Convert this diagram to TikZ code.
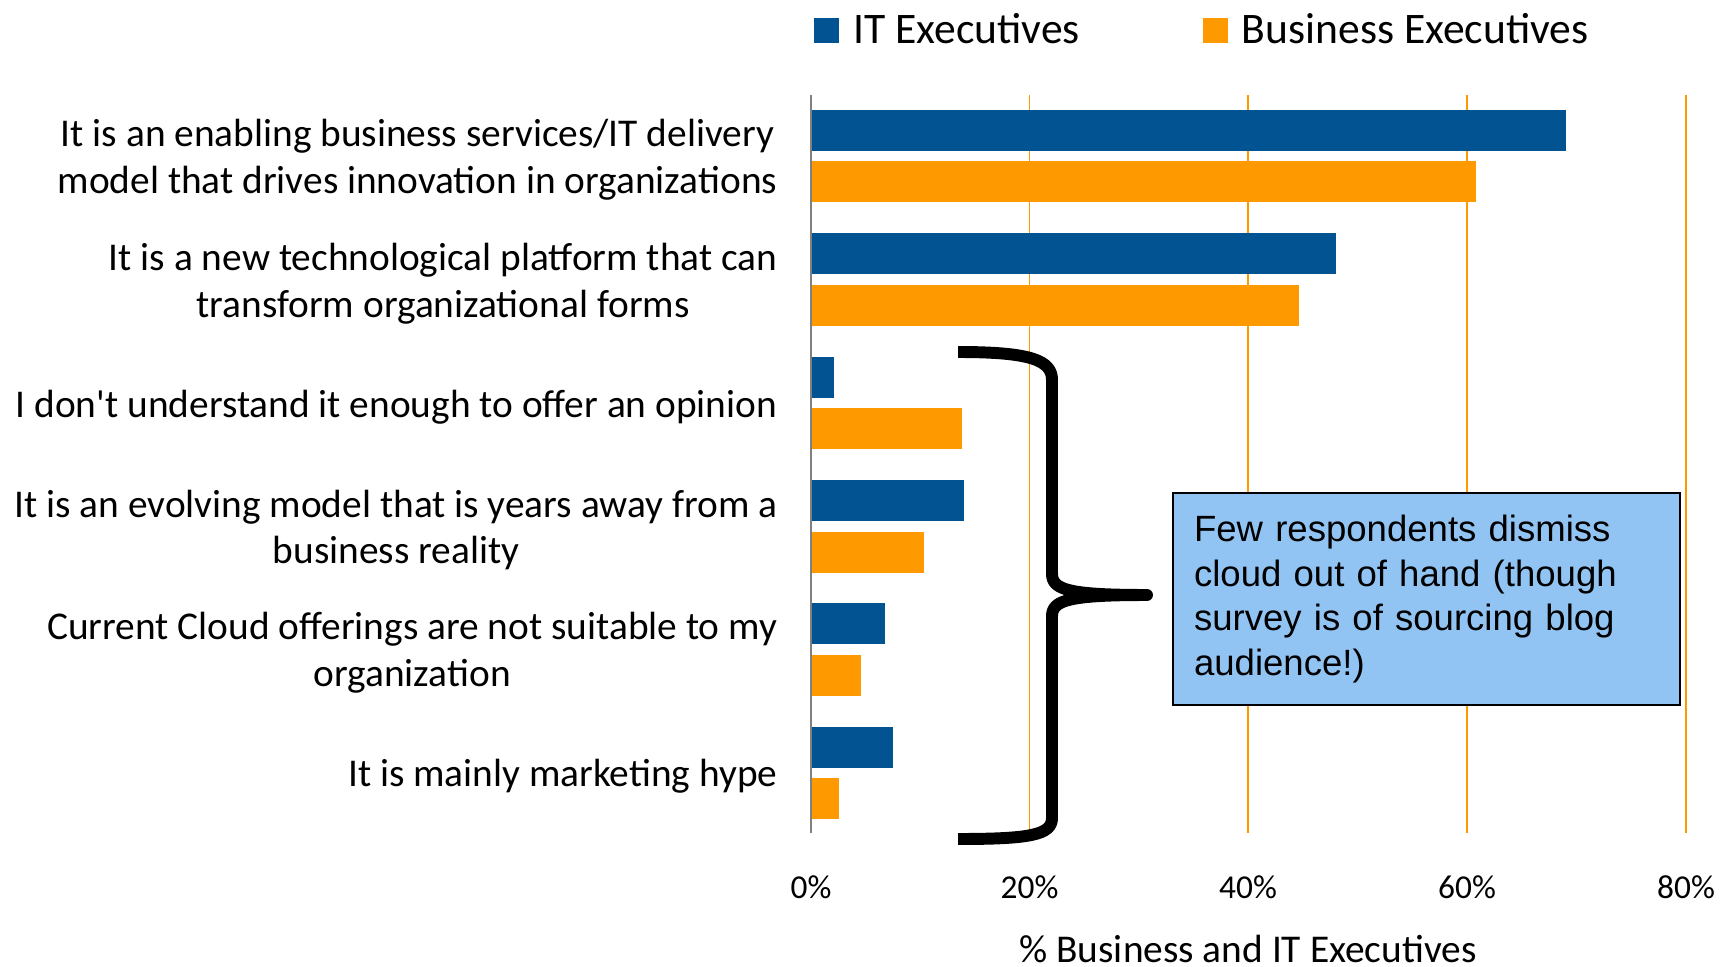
\documentclass[tikz,border=0pt]{standalone}
\usepackage{fontspec}
\usepackage{tikz}
\usetikzlibrary{positioning}
\newfontfamily\calfont{Carlito}
\newfontfamily\notefont{Liberation Sans}
\definecolor{itblue}{RGB}{2,83,145}
\definecolor{busorange}{RGB}{255,153,0}
\definecolor{noteblue}{RGB}{146,196,243}
\definecolor{axisgray}{RGB}{128,128,128}

\begin{document}
\begin{tikzpicture}[x=0.1mm,y=-0.1mm,
    itbar/.style={fill=itblue},
    busbar/.style={fill=busorange},
    gridline/.style={draw=busorange,line width=0.45pt},
    catlab/.style={anchor=east,align=center,inner sep=0pt,font=\calfont\fontsize{11.2}{13.3}\selectfont},
    ticklab/.style={anchor=base,inner sep=0pt,font=\calfont\fontsize{9.5}{11}\selectfont},
    legkey/.style={draw=none,minimum size=2.5mm,inner sep=0pt},
    legtext/.style={inner sep=0pt,font=\calfont\fontsize{12.4}{14}\selectfont}]

  \useasboundingbox (0,0) rectangle (1720,967);

  \path [gridline] (1029.5,95) -- (1029.5,833) (1248,95) -- (1248,833)
    (1467,95) -- (1467,833) (1686,95) -- (1686,833);

  \path [itbar]  (811,110)   rectangle (1566,151);
  \path [busbar] (811,161.5) rectangle (1476,202.5);
  \path [itbar]  (811,233.5) rectangle (1336,274.5);
  \path [busbar] (811,285)   rectangle (1299,326);
  \path [itbar]  (811,356.8) rectangle (834,397.8);
  \path [busbar] (811,408.3) rectangle (962,449.3);
  \path [itbar]  (811,480)   rectangle (964,521);
  \path [busbar] (811,531.5) rectangle (924,572.5);
  \path [itbar]  (811,603.3) rectangle (885,644.3);
  \path [busbar] (811,654.8) rectangle (861,695.8);
  \path [itbar]  (811,726.5) rectangle (893,767.5);
  \path [busbar] (811,778)   rectangle (839,819);

  \path [draw=axisgray,line width=0.6pt] (811,95) -- (811,833);

  \node [catlab] (cat_1) at (778,160) {It is an enabling business services/IT delivery\\model that drives innovation in organizations};
  \node [catlab] (cat_2) at (778,284) {It is a new technological platform that can\\transform organizational forms};
  \node [catlab] (cat_3) at (778,407) {I don't understand it enough to offer an opinion};
  \node [catlab] (cat_4) at (778,530) {It is an evolving model that is years away from a\\business reality};
  \node [catlab] (cat_5) at (778,653) {Current Cloud offerings are not suitable to my\\organization};
  \node [catlab] (cat_6) at (778,776) {It is mainly marketing hype};

  \node [ticklab] (tick_0) at (811,898) {0\%};
  \node [ticklab] (tick_20) at (1029.5,898) {20\%};
  \node [ticklab] (tick_40) at (1248,898) {40\%};
  \node [ticklab] (tick_60) at (1467,898) {60\%};
  \node [ticklab] (tick_80) at (1686,898) {80\%};

  \node [anchor=base,inner sep=0pt,font=\calfont\fontsize{11.2}{13}\selectfont] (xtitle) at (1248,962) {\% Business and IT Executives};

  \node [legkey,fill=itblue] (key_it) at (826.5,30.5) {};
  \node [legtext,right=1.3mm of key_it.south east,anchor=base west] (leg_it) {IT Executives};
  \node [legkey,fill=busorange] (key_bus) at (1215,30.5) {};
  \node [legtext,right=1.3mm of key_bus.south east,anchor=base west] (leg_bus) {Business Executives};

  \draw [line width=3.4pt,line join=round]
    (958,352) .. controls (1030,352) and (1052,360) .. (1052,380) -- (1052,574)
    .. controls (1052,590) and (1070,595) .. (1147,595)
    .. controls (1070,595) and (1052,600) .. (1052,616) -- (1052,818)
    .. controls (1052,835) and (1030,839) .. (958,839);

  \node [draw=black,line width=0.6pt,fill=noteblue,anchor=north west,align=left,
    text width=46.5mm,minimum width=50.7mm,minimum height=21.2mm,inner sep=2.1mm,
    font=\notefont\fontsize{10.4}{12.7}\selectfont] (note) at (1172,492)
    {Few respondents dismiss\\cloud out of hand (though\\survey is of sourcing blog\\audience!)};

\end{tikzpicture}
\end{document}
